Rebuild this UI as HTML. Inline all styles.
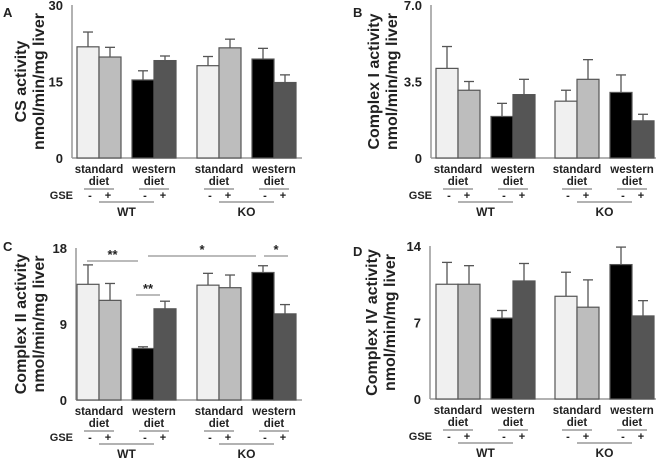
<!DOCTYPE html>
<html><head><meta charset="utf-8"><style>
body{margin:0;background:#fff;width:666px;height:464px;overflow:hidden}
text{font-family:"Liberation Sans",Arial,sans-serif;font-weight:bold;fill:#222}
</style></head><body>
<svg id="fig" width="666" height="464" xmlns="http://www.w3.org/2000/svg"></svg>
<script>
const groups = ["WT std -","WT std +","WT west -","WT west +","KO std -","KO std +","KO west -","KO west +"];
const csValues = [21.8,19.8,15.3,19.1,18.1,21.6,19.4,14.8];
const csErrors = [2.9,1.9,1.8,0.9,1.8,1.7,2.1,1.5];
const c1Values = [4.1,3.1,1.9,2.9,2.6,3.6,3.0,1.7];
const c1Errors = [1.0,0.4,0.6,0.7,0.5,0.9,0.8,0.3];
const c2Values = [13.7,11.8,6.1,10.8,13.6,13.3,15.1,10.2];
const c2Errors = [2.3,2.0,0.2,0.9,1.4,1.5,0.8,1.1];
const c4Values = [10.5,10.5,7.4,10.8,9.4,8.4,12.3,7.6];
const c4Errors = [2.0,1.7,0.7,1.6,2.2,2.5,1.6,1.4];
const csTicks = ["0","15","30"];
const c1Ticks = ["0","3.5","7.0"];
const c2Ticks = ["0","9","18"];
const c4Ticks = ["0","7","14"];
const fills = ["#f0f0f0","#bdbdbd","#000","#555"];
const NS="http://www.w3.org/2000/svg";
const svg=document.getElementById('fig');
function el(tag,attrs,parent,txt){const e=document.createElementNS(NS,tag);for(const k in attrs)e.setAttribute(k,attrs[k]);if(txt!==undefined)e.textContent=txt;(parent||svg).appendChild(e);return e;}
function panel(cfg){
  const g=el('g',{});
  
  
  const max=cfg.max, ax=cfg.ax, top=cfg.top, base=cfg.base;
  const y=v=>base-(v/max)*(base-top);
  const bx=i=>cfg.bx+i*22+(i>=4?cfg.gap:0)+((i%4)>=2?cfg.gap2:0);
  const L=el('text',{x:cfg.lx,y:cfg.ly,'font-size':13},g,cfg.letter);
  
  const ya=el('line',{x1:ax,y1:top,x2:ax,y2:base,stroke:'#999','stroke-width':1.5},g);
  
  const xa=el('line',{x1:ax,y1:base,x2:cfg.xend,y2:base,stroke:'#999','stroke-width':1.5},g);
  
  cfg.ticks.forEach((t,i)=>{const v=max*i/(cfg.ticks.length-1);
    const tt=el('text',{x:ax-9,y:y(v)+5,'font-size':13,'text-anchor':'end'},g,t);
    });
  const cx=cfg.tx;
  const t1=el('text',{x:cx,y:(top+base)/2,'font-size':16,'text-anchor':'middle',transform:`rotate(-90 ${cx} ${(top+base)/2})`},g,cfg.title);
  
  const t2=el('text',{x:cx+18,y:(top+base)/2,'font-size':16,'text-anchor':'middle',transform:`rotate(-90 ${cx+18} ${(top+base)/2})`},g,'nmol/min/mg liver');
  
  cfg.values.forEach((v,i)=>{const x=bx(i),e=cfg.errors[i];
    const ln=el('line',{x1:x+11,y1:y(v),x2:x+11,y2:y(v+e),stroke:'#555','stroke-width':1.3},g);
    
    const cap=el('line',{x1:x+6,y1:y(v+e),x2:x+16,y2:y(v+e),stroke:'#555','stroke-width':1.3},g);
    
    const r=el('rect',{x:x,y:y(v),width:22,height:base-y(v),fill:fills[i%4],stroke:'#555','stroke-width':1.2},g);
    });
  for(let p=0;p<4;p++){const x0=bx(p*2),c=x0+22;
    const a=el('text',{x:c,y:base+15,'font-size':11.5,'text-anchor':'middle'},g,p%2?'western':'standard');
    
    const b=el('text',{x:c,y:base+27,'font-size':11.5,'text-anchor':'middle'},g,'diet');
    
    const l=el('line',{x1:c-15,y1:base+31,x2:c+15,y2:base+31,stroke:'#666'},g);
    
    const m=el('text',{x:c-9,y:base+41,'font-size':11,'text-anchor':'middle'},g,'-');
    
    const pl=el('text',{x:c+9,y:base+41,'font-size':11,'text-anchor':'middle'},g,'+');
    }
  const gs=el('text',{x:bx(0)-4,y:base+41,'font-size':11,'text-anchor':'end'},g,'GSE');
  
  [[0,'WT'],[4,'KO']].forEach(([i,n])=>{const c=(bx(i)+22+bx(i+2)+22)/2;
    const l=el('line',{x1:bx(i)+22,y1:base+44,x2:bx(i+2)+22,y2:base+44,stroke:'#666'},g);
    
    const t=el('text',{x:c,y:base+58,'font-size':12,'text-anchor':'middle'},g,n);
    });
  return {g,y,bx};
}
panel({name:'panel-a-cs',letter:'A',lx:3,ly:17,ax:72,bx:77,gap:32,gap2:11,top:5,base:158,xend:302,max:30,ticks:csTicks,values:csValues,errors:csErrors,title:'CS activity',tx:26});
panel({name:'panel-b-complex1',letter:'B',lx:353,ly:17,ax:431,bx:436,gap:31,gap2:11,top:5,base:158,xend:656,max:7,ticks:c1Ticks,values:c1Values,errors:c1Errors,title:'Complex I activity',tx:379});
const pc=panel({name:'panel-c-complex2',letter:'C',lx:3,ly:251,ax:76,bx:77,gap:32,gap2:11,top:248,base:400,xend:302,max:18,ticks:c2Ticks,values:c2Values,errors:c2Errors,title:'Complex II activity',tx:26});
panel({name:'panel-d-complex4',letter:'D',lx:353,ly:256,ax:430,bx:436,gap:31,gap2:11,top:246,base:399,xend:656,max:14,ticks:c4Ticks,values:c4Values,errors:c4Errors,title:'Complex IV activity',tx:377});
const sig=[[87,138,261,'**'],[148,256,256,'*'],[264,288,256,'*'],[136,160,295,'**']];
sig.forEach(([x1,x2,yy,s])=>{const l=el('line',{x1:x1,y1:yy,x2:x2,y2:yy,stroke:'#777'});
  
  const t=el('text',{x:(x1+x2)/2,y:yy-2,'font-size':13,'text-anchor':'middle'},svg,s);
  });
</script>
</body></html>
